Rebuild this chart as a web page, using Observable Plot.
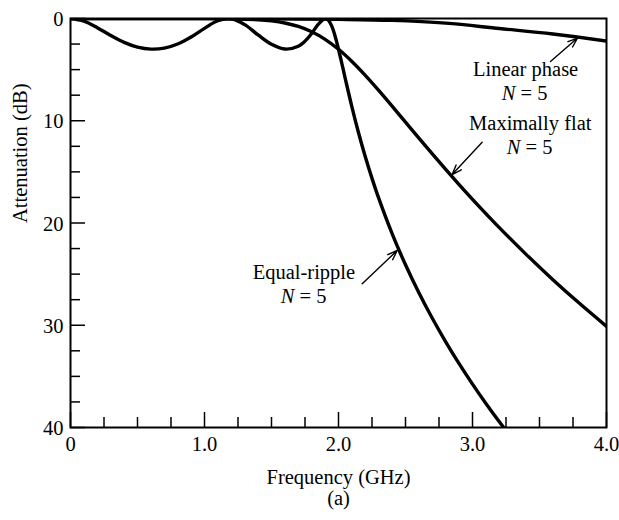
<!DOCTYPE html>
<html><head><meta charset="utf-8">
<script src="https://cdn.jsdelivr.net/npm/d3@7"></script>
<script src="https://cdn.jsdelivr.net/npm/@observablehq/plot@0.6"></script>
<style>
body{margin:0;background:#fff}
svg{display:block}
svg text{font-family:"Liberation Serif","DejaVu Serif","Noto Serif",serif !important;}
</style>
</head><body><div id="chart"></div>
<script>
// Equal-ripple N=5 (frequency GHz, attenuation dB)
const rippleFreq = [0,0.1,0.2,0.3,0.4,0.5,0.6,0.7,0.8,0.9,1.0,1.1,1.2,1.3,1.4,1.5,1.6,1.7,1.75,1.8,1.85,1.9,1.925,1.95,1.975,2.0,2.025,2.05,2.1,2.15,2.2,2.25,2.3,2.4,2.5,2.6,2.7,2.8,2.9,3.0,3.1,3.2,3.3];
const rippleAtt  = [0,0.257,0.897,1.659,2.332,2.796,2.995,2.898,2.497,1.818,0.965,0.219,0.025,0.600,1.607,2.527,2.987,2.710,2.212,1.454,0.552,0.001,0.163,0.750,1.736,3.010,4.403,5.844,8.638,11.200,13.521,15.634,17.573,21.038,24.086,26.823,29.317,31.616,33.754,35.757,37.643,39.428,41.123];
// Maximally flat N=5
const flatFreq = [0,0.5,1.0,1.2,1.4,1.5,1.6,1.7,1.8,1.9,2.0,2.1,2.2,2.3,2.4,2.5,2.6,2.7,2.8,2.9,3.0,3.2,3.4,3.6,3.8,4.0];
const flatAtt  = [0,0,0.004,0.026,0.121,0.238,0.443,0.780,1.299,2.037,3.010,4.198,5.556,7.029,8.568,10.134,11.699,13.244,14.760,16.241,17.684,20.451,23.066,25.539,27.882,30.107];
// Linear phase N=5
const linFreq = [0,0.5,1.0,1.5,2.0,2.4,2.8,3.2,3.6,4.0];
const linAtt  = [0,0,0.01,0.03,0.08,0.18,0.45,0.98,1.52,2.2];

const xTicks = [0,1,2,3,4];
const xTickLabels = ["0","1.0","2.0","3.0","4.0"];
const xMinor = [0.25,0.5,0.75,1.25,1.5,1.75,2.25,2.5,2.75,3.25,3.5,3.75];
const yTicks = [0,10,20,30,40];
const yTickLabels = ["0","10","20","30","40"];
const yMinor = [2.5,5,7.5,12.5,15,17.5,22.5,25,27.5,32.5,35,37.5];

const labelText = ["Linear phase","Maximally flat","Equal-ripple"];
const labelF = [3.396,3.431,1.742];
const labelA = [4.99,10.22,24.84];
const nF = [3.321,3.358,1.672];
const nA = [7.33,12.57,27.14];
const arrowF1 = [3.582,3.072,2.177];
const arrowA1 = [4.21,12.10,25.95];
const arrowF2 = [3.784,2.848,2.438];
const arrowA2 = [1.91,15.26,22.69];

const rows = [];
rippleFreq.forEach((f,i)=>rows.push({name:"Equal-ripple", f, a:rippleAtt[i]}));
flatFreq.forEach((f,i)=>rows.push({name:"Maximally flat", f, a:flatAtt[i]}));
linFreq.forEach((f,i)=>rows.push({name:"Linear phase", f, a:linAtt[i]}));

const font = "Liberation Serif";
const fs = 20.5;
const labels = labelText.map((t,i)=>({t, f:labelF[i], a:labelA[i]}));
const nLabels = nF.map((f,i)=>({f, a:nA[i]}));
const arrows = arrowF1.map((f,i)=>({x1:f, y1:arrowA1[i], x2:arrowF2[i], y2:arrowA2[i]}));
const T = {fontSize:fs, fontFamily:font, fill:"#000", lineAnchor:"middle"};

const chart = Plot.plot({
  width: 619, height: 520,
  marginLeft: 70, marginRight: 13, marginTop: 18, marginBottom: 93,
  style: {background: "#fff", color: "#000"},
  x: {domain: [0,4], axis: null},
  y: {domain: [0,40], reverse: true, axis: null},
  marks: [
    Plot.line(rows, {x:"f", y:"a", z:"name", stroke:"#000", strokeWidth:3.4, curve:"catmull-rom", clip:true}),
    Plot.frame({stroke:"#000", strokeWidth:2}),
    Plot.tickX(xMinor, {x:d=>d, stroke:"#000", strokeWidth:1.5, insetTop:399}),
    Plot.tickX(xTicks, {x:d=>d, stroke:"#000", strokeWidth:1.5, insetTop:394}),
    Plot.tickY(yMinor, {y:d=>d, stroke:"#000", strokeWidth:1.5, insetRight:526}),
    Plot.tickY(yTicks, {y:d=>d, stroke:"#000", strokeWidth:1.5, insetRight:521}),
    Plot.text(xTicks, {x:d=>d, frameAnchor:"bottom", dy:17, text:(d,i)=>xTickLabels[i], ...T}),
    Plot.text(yTicks, {y:d=>d, frameAnchor:"left", textAnchor:"end", dx:-7, dy:1, text:(d,i)=>yTickLabels[i], ...T}),
    Plot.text(["Frequency (GHz)"], {frameAnchor:"bottom", dy:49.5, text:d=>d, ...T}),
    Plot.text(["(a)"], {frameAnchor:"bottom", dy:71, text:d=>d, ...T}),
    Plot.text(["Attenuation (dB)"], {frameAnchor:"left", dx:-50, rotate:-90, text:d=>d, ...T}),
    Plot.text(labels, {x:"f", y:"a", text:"t", ...T}),
    Plot.text(nLabels, {x:"f", y:"a", text:()=>"N", textAnchor:"end", fontStyle:"italic", ...T}),
    Plot.text(nLabels, {x:"f", y:"a", text:()=>"= 5", textAnchor:"start", dx:5, ...T}),
    Plot.arrow(arrows, {x1:"x1", y1:"y1", x2:"x2", y2:"y2", stroke:"#000", strokeWidth:1.4, headLength:11, headAngle:40})
  ]
});
document.getElementById("chart").appendChild(chart);
</script>
</body></html>
